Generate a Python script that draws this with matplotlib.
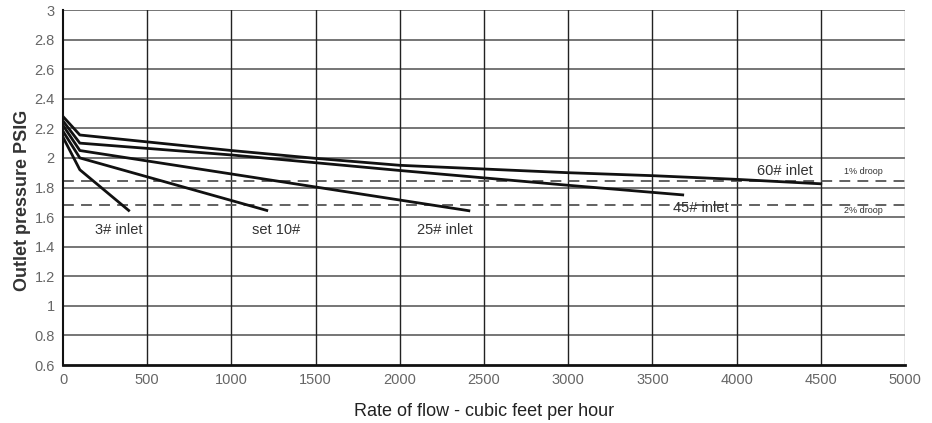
import matplotlib.pyplot as plt
import numpy as np

plt.rcParams['font.family'] = ['Liberation Sans', 'DejaVu Sans']

# curves (flow cfh, outlet psig)
flow_60 = [0, 100, 1000, 1500, 2000, 2500, 3000, 3500, 4000, 4500]
psig_60 = [2.28, 2.155, 2.05, 1.997, 1.95, 1.925, 1.90, 1.88, 1.855, 1.825]
flow_45 = [0, 100, 1000, 2000, 3000, 3680]
psig_45 = [2.25, 2.10, 2.02, 1.915, 1.815, 1.75]
flow_25 = [0, 100, 2410]
psig_25 = [2.22, 2.05, 1.643]
flow_10 = [0, 100, 1210]
psig_10 = [2.18, 2.00, 1.645]
flow_3 = [0, 100, 390]
psig_3 = [2.14, 1.92, 1.645]

droop_1 = 1.845
droop_2 = 1.685

labels = ["3# inlet", "set 10#", "25# inlet", "45# inlet", "60# inlet", "1% droop", "2% droop"]
label_x = [333, 1265, 2268, 3789, 4288, 4751, 4751]
label_y = [1.515, 1.515, 1.515, 1.66, 1.912, 1.905, 1.645]
label_size = [10.5, 10.5, 10.5, 10.5, 10.5, 6.5, 6.5]

fig = plt.figure(figsize=(9.32, 4.23), dpi=100)
ax = fig.add_axes([63 / 932, 1 - 365 / 423, 842 / 932, 355 / 423])

for y in np.arange(0.8, 3.01, 0.2):
    ax.axhline(y, color='#6a6a6a', lw=1.3, zorder=1)
for x in range(500, 5001, 500):
    ax.axvline(x, color='#222222' if x < 5000 else '#8a8a8a', lw=1.0, zorder=1)

ax.axhline(droop_1, color='#555555', lw=1.3, ls=(0, (6, 4)), zorder=2)
ax.axhline(droop_2, color='#555555', lw=1.3, ls=(0, (6, 4)), zorder=2)

for fx, py in [(flow_60, psig_60), (flow_45, psig_45), (flow_25, psig_25),
               (flow_10, psig_10), (flow_3, psig_3)]:
    ax.plot(fx, py, color='#111111', lw=2.0, zorder=3)

for t, x, y, s in zip(labels, label_x, label_y, label_size):
    ax.text(x, y, t, ha='center', va='center', fontsize=s, color='#333333', zorder=4)

ax.set_xlim(0, 5000)
ax.set_ylim(0.6, 3)
ax.set_xticks(range(0, 5001, 500))
yt = np.round(np.arange(0.6, 3.01, 0.2), 1)
ax.set_yticks(yt)
ax.set_yticklabels([f"{v:g}" for v in yt])
ax.tick_params(length=0, labelsize=10.5, colors='#666666', pad=6)

for side in ['top', 'right']:
    ax.spines[side].set_visible(False)
ax.spines['left'].set_color('#111111')
ax.spines['left'].set_linewidth(1.5)
ax.spines['bottom'].set_color('#111111')
ax.spines['bottom'].set_linewidth(2.0)

ax.set_xlabel("Rate of flow - cubic feet per hour", fontsize=13, color='#222222', labelpad=11)
ax.set_ylabel("Outlet pressure PSIG", fontsize=13, fontweight='bold', color='#333333')
ax.yaxis.set_label_coords(-0.038, 0.465)

fig.savefig("out.png", dpi=100)
